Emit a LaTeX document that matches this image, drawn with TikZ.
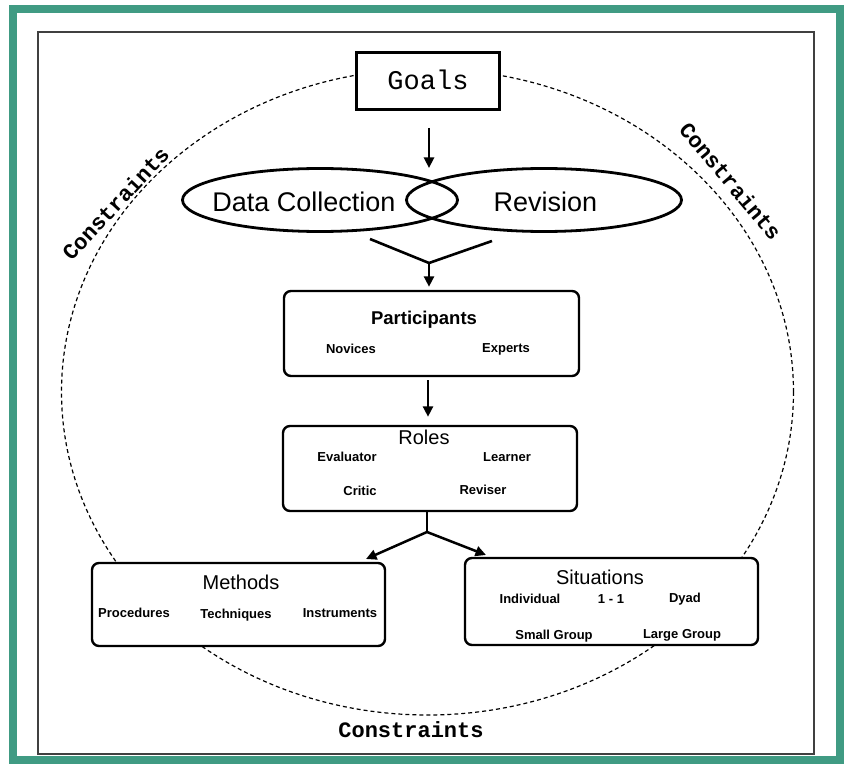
\documentclass[tikz,border=0pt]{standalone}
\usepackage{fontspec}
\setmainfont{Liberation Sans}
\newfontfamily\monof{Liberation Mono}
\usetikzlibrary{arrows.meta,shapes.geometric}
\definecolor{teal1}{RGB}{64,155,131}
\begin{document}
\begin{tikzpicture}[x=1pt,y=-1pt,
  box/.style={draw, line width=2.4pt, rounded corners=7pt, fill=white, inner sep=0pt},
  arr/.style={line width=2.5pt, -{Triangle[length=10.5pt,width=10pt]}},
  conn/.style={line width=2.6pt},
  head/.style={font=\fontsize{20}{22}\selectfont, inner sep=0pt, text height=14.4pt, text depth=0pt},
  headb/.style={font=\bfseries\fontsize{18.5}{22}\selectfont, inner sep=0pt, text height=13.3pt, text depth=0pt},
  item/.style={font=\bfseries\fontsize{13}{15}\selectfont, inner sep=0pt, text height=9.4pt, text depth=0pt},
  big/.style={font=\fontsize{27}{30}\selectfont, inner sep=0pt, text height=19.4pt, text depth=0pt},
  cons/.style={font=\monof\bfseries\fontsize{22}{24}\selectfont, inner sep=0pt, text height=13.9pt, text depth=0pt},
  lens/.style={draw, ellipse, line width=2.8pt, minimum width=275pt, minimum height=63pt, inner sep=0pt}
]
\useasboundingbox (0,0) rectangle (847,765);
% frames
\draw[teal1, line width=8pt] (13,9) rectangle (839.5,760);
\draw[black!75, line width=1.3pt] (38,32) rectangle (814,754);
% constraints boundary
\draw[dash pattern=on 4pt off 3pt, line width=1.2pt] (427.5,392) ellipse [x radius=366pt, y radius=323pt];
\node[cons, rotate=47] (cl) at (116,204) {Constraints};
\node[cons, rotate=-50] (cr) at (730,181.5) {Constraints};
\node[cons] (cb) at (411,731) {Constraints};

% goals
\node[draw, line width=3pt, fill=white, minimum width=143pt, minimum height=57pt, inner sep=0pt,
      font=\monof\fontsize{27}{30}\selectfont, text height=17pt, text depth=0pt] (goals) at (428,81) {Goals};

% lenses
\node[lens] (dc) at (320,200) {};
\node[lens] (rev) at (544,200) {};
\node[big] (dct) at (304,202) {Data Collection};
\node[big] (revt) at (545.5,202) {Revision};

% boxes
\node[box, minimum width=295pt, minimum height=85pt] (part) at (431.5,333.5) {};
\node[box, minimum width=294pt, minimum height=85pt] (roles) at (430,468.5) {};
\node[box, minimum width=293pt, minimum height=83pt] (meth) at (238.5,604.5) {};
\node[box, minimum width=293pt, minimum height=87pt] (sit) at (611.5,601.5) {};

% texts
\node[headb] (partt) at (424,318) {Participants};
\node[item] (nov) at (351,349) {Novices};
\node[item] (exp) at (506,348) {Experts};

\node[head] (rolest) at (424,437) {Roles};
\node[item] (eva) at (347,457) {Evaluator};
\node[item] (lea) at (507,457) {Learner};
\node[item] (cri) at (360,491) {Critic};
\node[item] (rvs) at (483,490) {Reviser};

\node[head] (metht) at (241,582) {Methods};
\node[item] (pro) at (134,613) {Procedures};
\node[item] (tec) at (236,614) {Techniques};
\node[item] (ins) at (340,613) {Instruments};

\node[head] (sitt) at (600,577) {Situations};
\node[item] (ind) at (530,599) {Individual};
\node[item] (one) at (611,599) {1 - 1};
\node[item] (dya) at (685,598) {Dyad};
\node[item] (smg) at (554,635) {Small Group};
\node[item] (lag) at (682,634) {Large Group};

% connectors
\coordinate (gtip) at (429,168);
\coordinate (vl) at (370,239);
\coordinate (vr) at (492,241);
\coordinate (vj) at (429,263);
\coordinate (rj) at (427,532);
\coordinate (mtip) at (366,559);
\coordinate (stip) at (486,555);

\draw[arr] ([xshift=1pt,yshift=-17pt]goals.south) -- (gtip);
\draw[conn] (vl) -- (vj) -- (vr);
\draw[arr, shorten >=3pt] (vj) -- (vj |- part.north);
\draw[arr, shorten <=3pt, shorten >=8pt] ([xshift=-3.5pt]part.south) -- ([xshift=-2pt]roles.north);
\draw[conn] ([xshift=-3pt]roles.south) -- (rj);
\draw[arr] (rj) -- (mtip);
\draw[arr] (rj) -- (stip);
\end{tikzpicture}
\end{document}
